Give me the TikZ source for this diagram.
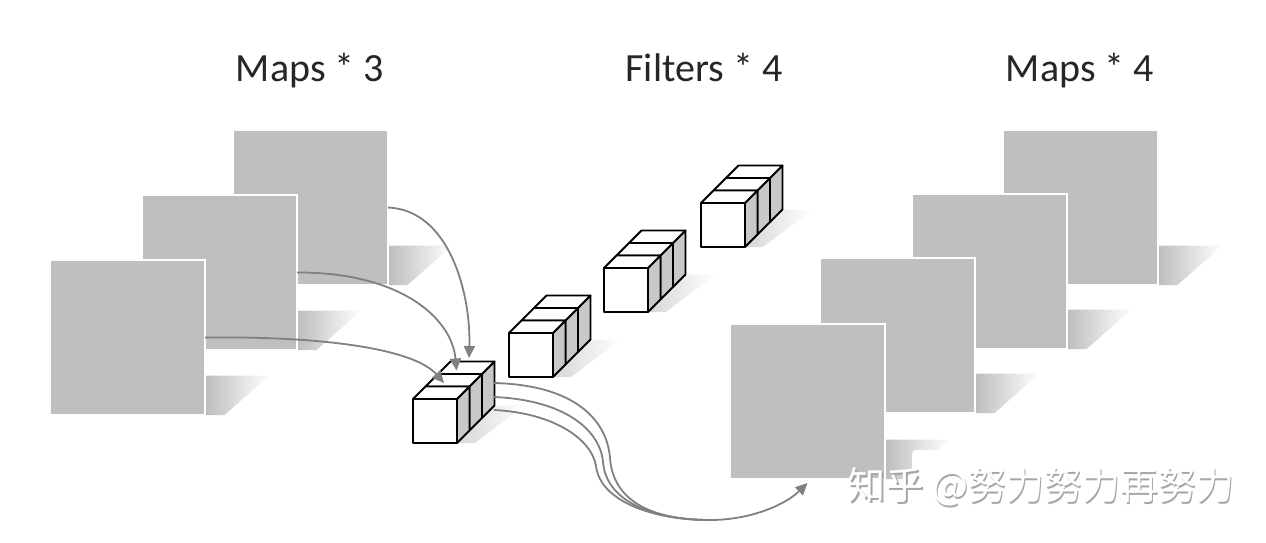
\documentclass[tikz,border=0pt]{standalone}
\usepackage{fontspec}
\setmainfont{Carlito}
\newfontfamily\cjk{Noto Sans CJK SC}
\usetikzlibrary{arrows.meta, calc, positioning}
\definecolor{mapgray}{RGB}{191,191,191}
\definecolor{sidegray}{RGB}{200,200,200}
\definecolor{linkgray}{RGB}{128,128,128}

\begin{document}
\begin{tikzpicture}[x=1pt,y=-1pt,
  map/.style={rectangle, fill=mapgray, draw=white, line width=2.5pt, minimum size=155pt, inner sep=0pt, outer sep=0pt},
  mapshadow/.style={left color=black!26, right color=white},
  cubeshadow/.style={left color=black!16, right color=white},
  cubeface/.style={draw=black, line width=1.8pt, line join=round},
  link/.style={draw=linkgray, line width=1.8pt},
  linkarrow/.style={link, -{Triangle[length=12pt,width=11pt]}},
  heading/.style={font=\fontsize{40}{48}\selectfont, text=black!85, anchor=base},
  wmark/.style={font=\cjk\fontsize{38}{44}\selectfont, inner sep=0pt}]
  \useasboundingbox (0,0) rectangle (1266,542);

  % headings
  \node[heading] (h1) at (310,81) {Maps * 3};
  \node[heading] (h2) at (704,81) {Filters * 4};
  \node[heading] (h3) at (1080,81) {Maps * 4};

  % input maps, back to front
  \foreach \i/\x/\y in {3/310.5/207.5, 2/219.5/272.5, 1/127.5/337.5} {
    \shade[mapshadow] (\x+77.5,\y+38) -- (\x+142,\y+38) -- (\x+97,\y+77.5) -- (\x+77.5,\y+77.5) -- cycle;
    \node[map] (in\i) at (\x,\y) {};
  }

  % output maps, back to front
  \foreach \i/\x/\y in {4/1080.5/207.5, 3/989.5/271.5, 2/897.5/335.5, 1/807.5/401.5} {
    \shade[mapshadow] (\x+77.5,\y+38) -- (\x+142,\y+38) -- (\x+97,\y+77.5) -- (\x+77.5,\y+77.5) -- cycle;
    \node[map] (out\i) at (\x,\y) {};
  }

  % filters, each three cubes deep
  \foreach \fx/\fy [count=\n] in {413/399, 509/333, 604/268, 701/203} {
    \shade[cubeshadow] (\fx+44,\fy+44) -- (\fx+81.5,\fy+6.5) -- (\fx+112,\fy+6.5) -- (\fx+62,\fy+44) -- cycle;
    \foreach \k in {2,1,0} {
      \pgfmathsetmacro\ax{\fx+12.5*\k}
      \pgfmathsetmacro\ay{\fy-12.5*\k}
      \draw[cubeface, fill=sidegray] (\ax+44,\ay) -- ++(12.5,-12.5) -- ++(0,44) -- ++(-12.5,12.5) -- cycle;
      \draw[cubeface, fill=white] (\ax,\ay) -- ++(12.5,-12.5) -- ++(44,0) -- ++(-12.5,12.5) -- cycle;
      \draw[cubeface, fill=white] (\ax,\ay) rectangle ++(44,44);
      \coordinate (f\n-\k) at (\ax+31,\ay-16);
    }
  }

  % maps into the first filter
  \draw[linkarrow] (in3.east) .. controls (450,210) and (471,295) .. (f1-2);
  \draw[linkarrow] (in2.east) .. controls (400,272) and (452,318) .. (f1-1);
  \draw[linkarrow] (in1.east) .. controls (330,336) and (415,350) .. (f1-0);

  % first filter into the first output map
  \coordinate (o1) at (494,383);
  \coordinate (o2) at (494,397);
  \coordinate (o3) at (494,410);
  \coordinate (merge) at (710,520);
  \draw[link] (o1) .. controls (575,385) and (607,420) .. (610,458) .. controls (613,500) and (650,520) .. (merge);
  \draw[link] (o2) .. controls (565,400) and (600,430) .. (603,462) .. controls (606,500) and (650,520) .. (merge);
  \draw[link] (o3) .. controls (555,413) and (592,440) .. (596,466) .. controls (600,500) and (650,520) .. (merge);
  \draw[linkarrow] (merge) .. controls (750,520) and (785,505) .. ([yshift=-4pt]out1.south);

  % watermark
  \fill[white, rounded corners=4pt] (912,450) rectangle (1245,515);
  \node[wmark, text=black!35] (wm0) at (1042.5,488.5) {知乎 @努力努力再努力};
  \node[wmark, text=white] (wm) at (1041,487) {知乎 @努力努力再努力};
\end{tikzpicture}
\end{document}
